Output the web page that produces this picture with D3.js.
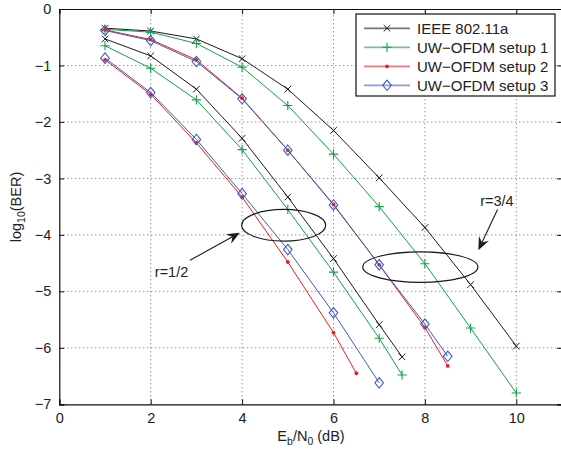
<!DOCTYPE html>
<html>
<head>
<meta charset="utf-8">
<script src="https://cdn.jsdelivr.net/npm/d3@7"></script>
<style>
  body { margin: 0; background: #fff; }
  svg { display: block; font-family: "Liberation Sans", Arial, sans-serif; }
</style>
</head>
<body>
<svg id="chart" width="561" height="451"></svg>
<script>
// Eb/N0 (dB) and log10(BER)
const ieeeHalfX = [1, 2, 3, 4, 5, 6, 7, 7.5];
const ieeeHalfY = [-0.53, -0.83, -1.42, -2.29, -3.33, -4.42, -5.59, -6.16];
const ieeeQuarterX = [1, 2, 3, 4, 5, 6, 7, 8, 9, 10];
const ieeeQuarterY = [-0.34, -0.39, -0.53, -0.88, -1.42, -2.15, -2.99, -3.87, -4.88, -5.97];

const setup1HalfX = [1, 2, 3, 4, 5, 6, 7, 7.5];
const setup1HalfY = [-0.65, -1.05, -1.61, -2.49, -3.55, -4.66, -5.83, -6.48];
const setup1QuarterX = [1, 2, 3, 4, 5, 6, 7, 8, 9, 10];
const setup1QuarterY = [-0.36, -0.41, -0.61, -1.03, -1.71, -2.57, -3.5, -4.51, -5.65, -6.8];

const setup2HalfX = [1, 2, 3, 4, 5, 6, 6.5];
const setup2HalfY = [-0.9, -1.51, -2.37, -3.33, -4.48, -5.73, -6.45];
const setup2QuarterX = [1, 2, 3, 4, 5, 6, 7, 8, 8.5];
const setup2QuarterY = [-0.37, -0.54, -0.9, -1.58, -2.5, -3.46, -4.53, -5.64, -6.32];

const setup3HalfX = [1, 2, 3, 4, 5, 6, 7];
const setup3HalfY = [-0.87, -1.48, -2.31, -3.27, -4.26, -5.38, -6.62];
const setup3QuarterX = [1, 2, 3, 4, 5, 6, 7, 8, 8.5];
const setup3QuarterY = [-0.38, -0.56, -0.93, -1.59, -2.5, -3.47, -4.53, -5.58, -6.15];

const seriesNames = ["IEEE 802.11a", "UW\u2212OFDM setup 1", "UW\u2212OFDM setup 2", "UW\u2212OFDM setup 3"];
const xTicks = [0, 2, 4, 6, 8, 10];
const yTicks = [0, -1, -2, -3, -4, -5, -6, -7];

// annotations (data units)
const ellipseHalf = {cx: 4.91, cy: -3.83, rx: 0.92, ry: 0.28};
const ellipseQuarter = {cx: 7.9, cy: -4.57, rx: 1.26, ry: 0.27};
const arrowHalf = {x1: 2.86, y1: -4.45, x2: 3.95, y2: -3.96, label: "r=1/2", lx: 2.09, ly: -4.75};
const arrowQuarter = {x1: 9.59, y1: -3.55, x2: 9.17, y2: -4.27, label: "r=3/4", lx: 9.21, ly: -3.48};

const colors = ["#1a1a1a", "#13a04a", "#ec1c24", "#3d5cbf"];
const markers = ["x", "plus", "dot", "diamond"];

const svg = d3.select('#chart');
const x = d3.scaleLinear().domain([0, 11]).range([59.3, 562]);
const y = d3.scaleLinear().domain([-7, 0]).range([404.3, 9]);

// grid
const grid = svg.append('g').attr('stroke', '#666').attr('stroke-width', 1).attr('stroke-dasharray', '1,3');
xTicks.slice(1).forEach(function(t){
  grid.append('line').attr('x1', x(t)).attr('x2', x(t)).attr('y1', y(-7)).attr('y2', y(0));
});
yTicks.slice(1, -1).forEach(function(t){
  grid.append('line').attr('x1', x(0)).attr('x2', x(11)).attr('y1', y(t)).attr('y2', y(t));
});

// axes
const fmt = function(d){ return d < 0 ? '\u2212' + Math.abs(d) : String(d); };
const axB = svg.append('g').attr('transform', 'translate(0,' + y(-7) + ')')
  .call(d3.axisBottom(x).tickValues(xTicks).tickFormat(fmt).tickSize(-5).tickPadding(8));
const axL = svg.append('g').attr('transform', 'translate(' + x(0) + ',0)')
  .call(d3.axisLeft(y).tickValues(yTicks).tickFormat(fmt).tickSize(-5).tickPadding(8));
const axT = svg.append('g').attr('transform', 'translate(0,' + y(0) + ')')
  .call(d3.axisTop(x).tickValues(xTicks).tickFormat('').tickSize(-5));
const axR = svg.append('g').attr('transform', 'translate(' + x(11) + ',0)')
  .call(d3.axisRight(y).tickValues(yTicks).tickFormat('').tickSize(-5));
[axB, axL, axT, axR].forEach(function(a){
  a.selectAll('path').attr('stroke', '#111').attr('stroke-width', 1.2);
  a.selectAll('line').attr('stroke', '#111');
  a.selectAll('text').attr('font-size', 14.5).attr('fill', '#222').attr('font-family', '"Liberation Sans", Arial, sans-serif');
});

// series
const line = d3.line().x(function(d){ return x(d[0]); }).y(function(d){ return y(d[1]); });

function drawMarker(g, kind, px, py, color){
  if(kind == 'x'){
    const s = 3.3;
    g.append('path').attr('d', 'M' + (px - s) + ',' + (py - s) + 'L' + (px + s) + ',' + (py + s) + 'M' + (px - s) + ',' + (py + s) + 'L' + (px + s) + ',' + (py - s))
      .attr('stroke', color).attr('fill', 'none');
  } else if(kind == 'plus'){
    const s = 4.6;
    g.append('path').attr('d', 'M' + (px - s) + ',' + py + 'L' + (px + s) + ',' + py + 'M' + px + ',' + (py - s) + 'L' + px + ',' + (py + s))
      .attr('stroke', color).attr('fill', 'none').attr('stroke-width', 1.1);
  } else if(kind == 'dot'){
    g.append('circle').attr('cx', px).attr('cy', py).attr('r', 1.9).attr('fill', color);
  } else {
    const w = 4.3, h = 5.2;
    g.append('path').attr('d', 'M' + px + ',' + (py - h) + 'L' + (px + w) + ',' + py + 'L' + px + ',' + (py + h) + 'L' + (px - w) + ',' + py + 'Z')
      .attr('stroke', color).attr('fill', 'none').attr('stroke-width', 1.1);
  }
}

const groups = [
  [[ieeeHalfX, ieeeHalfY], [ieeeQuarterX, ieeeQuarterY]],
  [[setup1HalfX, setup1HalfY], [setup1QuarterX, setup1QuarterY]],
  [[setup2HalfX, setup2HalfY], [setup2QuarterX, setup2QuarterY]],
  [[setup3HalfX, setup3HalfY], [setup3QuarterX, setup3QuarterY]]
];

groups.forEach(function(pair, i){
  const g = svg.append('g');
  pair.forEach(function(s){
    const pts = s[0].map(function(v, j){ return [v, s[1][j]]; });
    g.append('path').datum(pts).attr('d', line).attr('fill', 'none')
      .attr('stroke', colors[i]).attr('stroke-width', 1);
    pts.forEach(function(p){ drawMarker(g, markers[i], x(p[0]), y(p[1]), colors[i]); });
  });
});

// annotations
function drawEllipse(e){
  svg.append('ellipse').attr('cx', x(e.cx)).attr('cy', y(e.cy))
    .attr('rx', x(e.cx + e.rx) - x(e.cx)).attr('ry', y(e.cy - e.ry) - y(e.cy))
    .attr('fill', 'none').attr('stroke', '#1a1a1a').attr('stroke-width', 1.2);
}
function drawArrow(a){
  const x1 = x(a.x1), y1 = y(a.y1), x2 = x(a.x2), y2 = y(a.y2);
  const ang = Math.atan2(y2 - y1, x2 - x1);
  const len = 13, half = 5.5;
  const bx = x2 - len * Math.cos(ang), by = y2 - len * Math.sin(ang);
  const nx = -Math.sin(ang), ny = Math.cos(ang);
  const ix = x2 - len * 0.65 * Math.cos(ang), iy = y2 - len * 0.65 * Math.sin(ang);
  svg.append('line').attr('x1', x1).attr('y1', y1).attr('x2', ix).attr('y2', iy)
    .attr('stroke', '#1a1a1a').attr('stroke-width', 1.1);
  svg.append('path')
    .attr('d', 'M' + x2 + ',' + y2 + 'L' + (bx + nx * half) + ',' + (by + ny * half) + 'L' + ix + ',' + iy + 'L' + (bx - nx * half) + ',' + (by - ny * half) + 'Z')
    .attr('fill', '#1a1a1a');
  svg.append('text').attr('x', x(a.lx)).attr('y', y(a.ly)).text(a.label)
    .attr('font-size', 14.5).attr('fill', '#222');
}
drawEllipse(ellipseHalf);
drawEllipse(ellipseQuarter);
drawArrow(arrowHalf);
drawArrow(arrowQuarter);

// legend
const leg = svg.append('g').attr('transform', 'translate(356,14)');
leg.append('rect').attr('width', 199).attr('height', 82).attr('fill', '#fff').attr('stroke', '#111').attr('stroke-width', 1.2);
seriesNames.forEach(function(name, i){
  const ry = 14.3 + i * 19;
  leg.append('line').attr('x1', 8).attr('x2', 54).attr('y1', ry).attr('y2', ry)
    .attr('stroke', colors[i]).attr('stroke-width', 1.8).attr('stroke-opacity', 0.6);
  drawMarker(leg, markers[i], 31, ry, colors[i]);
  leg.append('text').attr('x', 61).attr('y', ry + 5.3).text(name)
    .attr('font-size', 15).attr('fill', '#222');
});

// axis labels
const yl = svg.append('text').attr('transform', 'translate(21,207) rotate(-90)')
  .attr('text-anchor', 'middle').attr('font-size', 14.5).attr('fill', '#222');
yl.append('tspan').text('log');
yl.append('tspan').text('10').attr('font-size', 10.5).attr('dy', 4);
yl.append('tspan').text('(BER)').attr('dy', -4);

const xl = svg.append('text').attr('x', 311).attr('y', 441)
  .attr('text-anchor', 'middle').attr('font-size', 14.5).attr('fill', '#222');
xl.append('tspan').text('E');
xl.append('tspan').text('b').attr('font-size', 10.5).attr('dy', 4);
xl.append('tspan').text('/N').attr('dy', -4);
xl.append('tspan').text('0').attr('font-size', 10.5).attr('dy', 4);
xl.append('tspan').text(' (dB)').attr('dy', -4);
</script>
</body>
</html>
